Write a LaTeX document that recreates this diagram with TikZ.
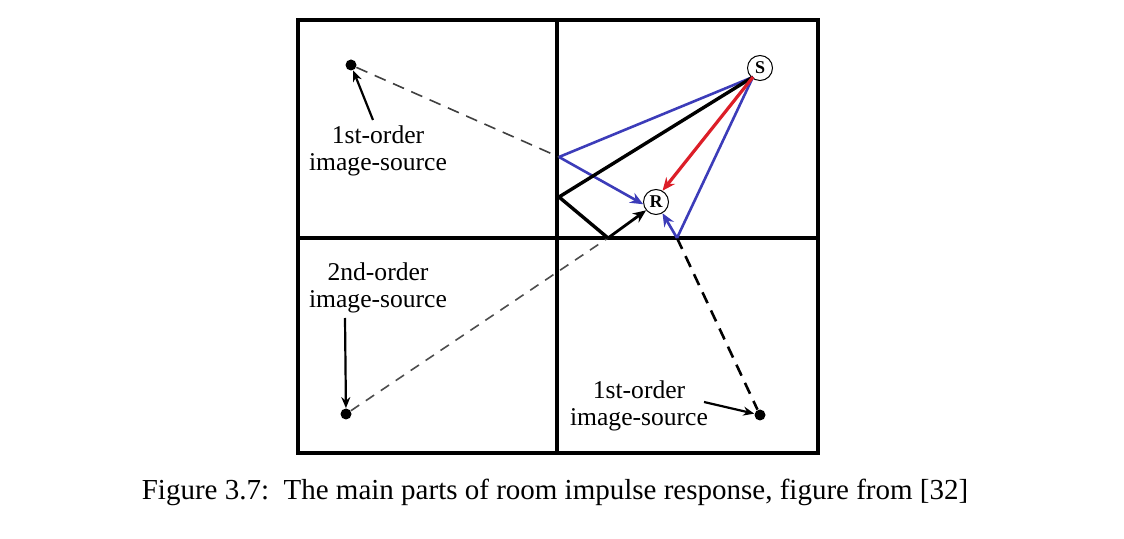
\documentclass[tikz,border=0pt]{standalone}
\usepackage{fontspec}
\setmainfont{Liberation Serif}
\usetikzlibrary{arrows.meta}
\definecolor{rayblue}{RGB}{60,60,185}
\definecolor{rayred}{RGB}{220,30,40}
\tikzset{
  wall/.style={line width=1.6pt},
  lbl/.style={font=\fontsize{12.8}{13.8}\selectfont, align=center, inner sep=0pt},
  imgsrc/.style={circle, fill=black, inner sep=0pt, minimum size=5.5pt},
  mic/.style={circle, draw, line width=0.5pt, inner sep=0pt, minimum size=12.5pt, font=\bfseries\fontsize{9}{9}\selectfont},
  tip/.style={-{Stealth[length=6.5pt,width=5.5pt]}},
  pointer/.style={line width=1.1pt, -{Stealth[length=5.5pt,width=4.5pt]}}
}
\begin{document}
\begin{tikzpicture}[x=0.5pt,y=-0.5pt]
\useasboundingbox (0,0) rectangle (1124,539);
% room grid
\draw[wall] (298,20) rectangle (818,453);
\draw[wall] (557,20) -- (557,453);
\draw[wall] (298,238) -- (818,238);
\draw[line width=1.9pt] (298,238) -- (378,238);
% sources
\node[mic] (S) at (760,68) {S};
\node[mic] (R) at (656,202) {R};
\node[imgsrc] (I1) at (351,65) {};
\node[imgsrc] (I2) at (346,414) {};
\node[imgsrc] (I3) at (760,415) {};
% reflection points
\coordinate (PL) at (559,157);
\coordinate (PB) at (677,238);
\coordinate (QL) at (559,197);
\coordinate (QB) at (608,238);
\coordinate (SO) at (753,77);
% dashed image lines
\draw[line width=0.8pt, black!75, dash pattern=on 6pt off 4pt] (I1) -- (PL);
\draw[line width=0.8pt, black!70, dash pattern=on 5pt off 4pt] (I2) -- (QB);
\draw[line width=1.3pt, dash pattern=on 6pt off 4pt] (PB) -- (I3);
% rays
\draw[rayblue, line width=1.3pt] (SO) -- (PL);
\draw[rayblue, line width=1.3pt, tip] (PL) -- (R.190);
\draw[rayblue, line width=1.3pt] (SO) -- (PB);
\draw[rayblue, line width=1.3pt, tip] (PB) -- (R.-60);
\draw[line width=1.7pt] (SO) -- (QL) -- (QB);
\draw[line width=1.4pt, tip] (QB) -- (R.220);
\draw[rayred, line width=1.6pt, tip] (SO) -- (R.60);
% labels
\node[lbl] (L1) at (378,151) {1st-order\\image-source};
\node[lbl] (L2) at (378,288) {2nd-order\\image-source};
\node[lbl] (L3) at (639,406) {1st-order\\image-source};
\draw[pointer] (373,120) -- (I1);
\draw[pointer] (345,318) -- (I2);
\draw[pointer] (704,402) -- (I3);
% caption
\node[font=\fontsize{14.5}{16}\selectfont, inner sep=0pt] (cap) at (555,492) {Figure 3.7:\ \ The main parts of room impulse response, figure from [32]};
\end{tikzpicture}
\end{document}
